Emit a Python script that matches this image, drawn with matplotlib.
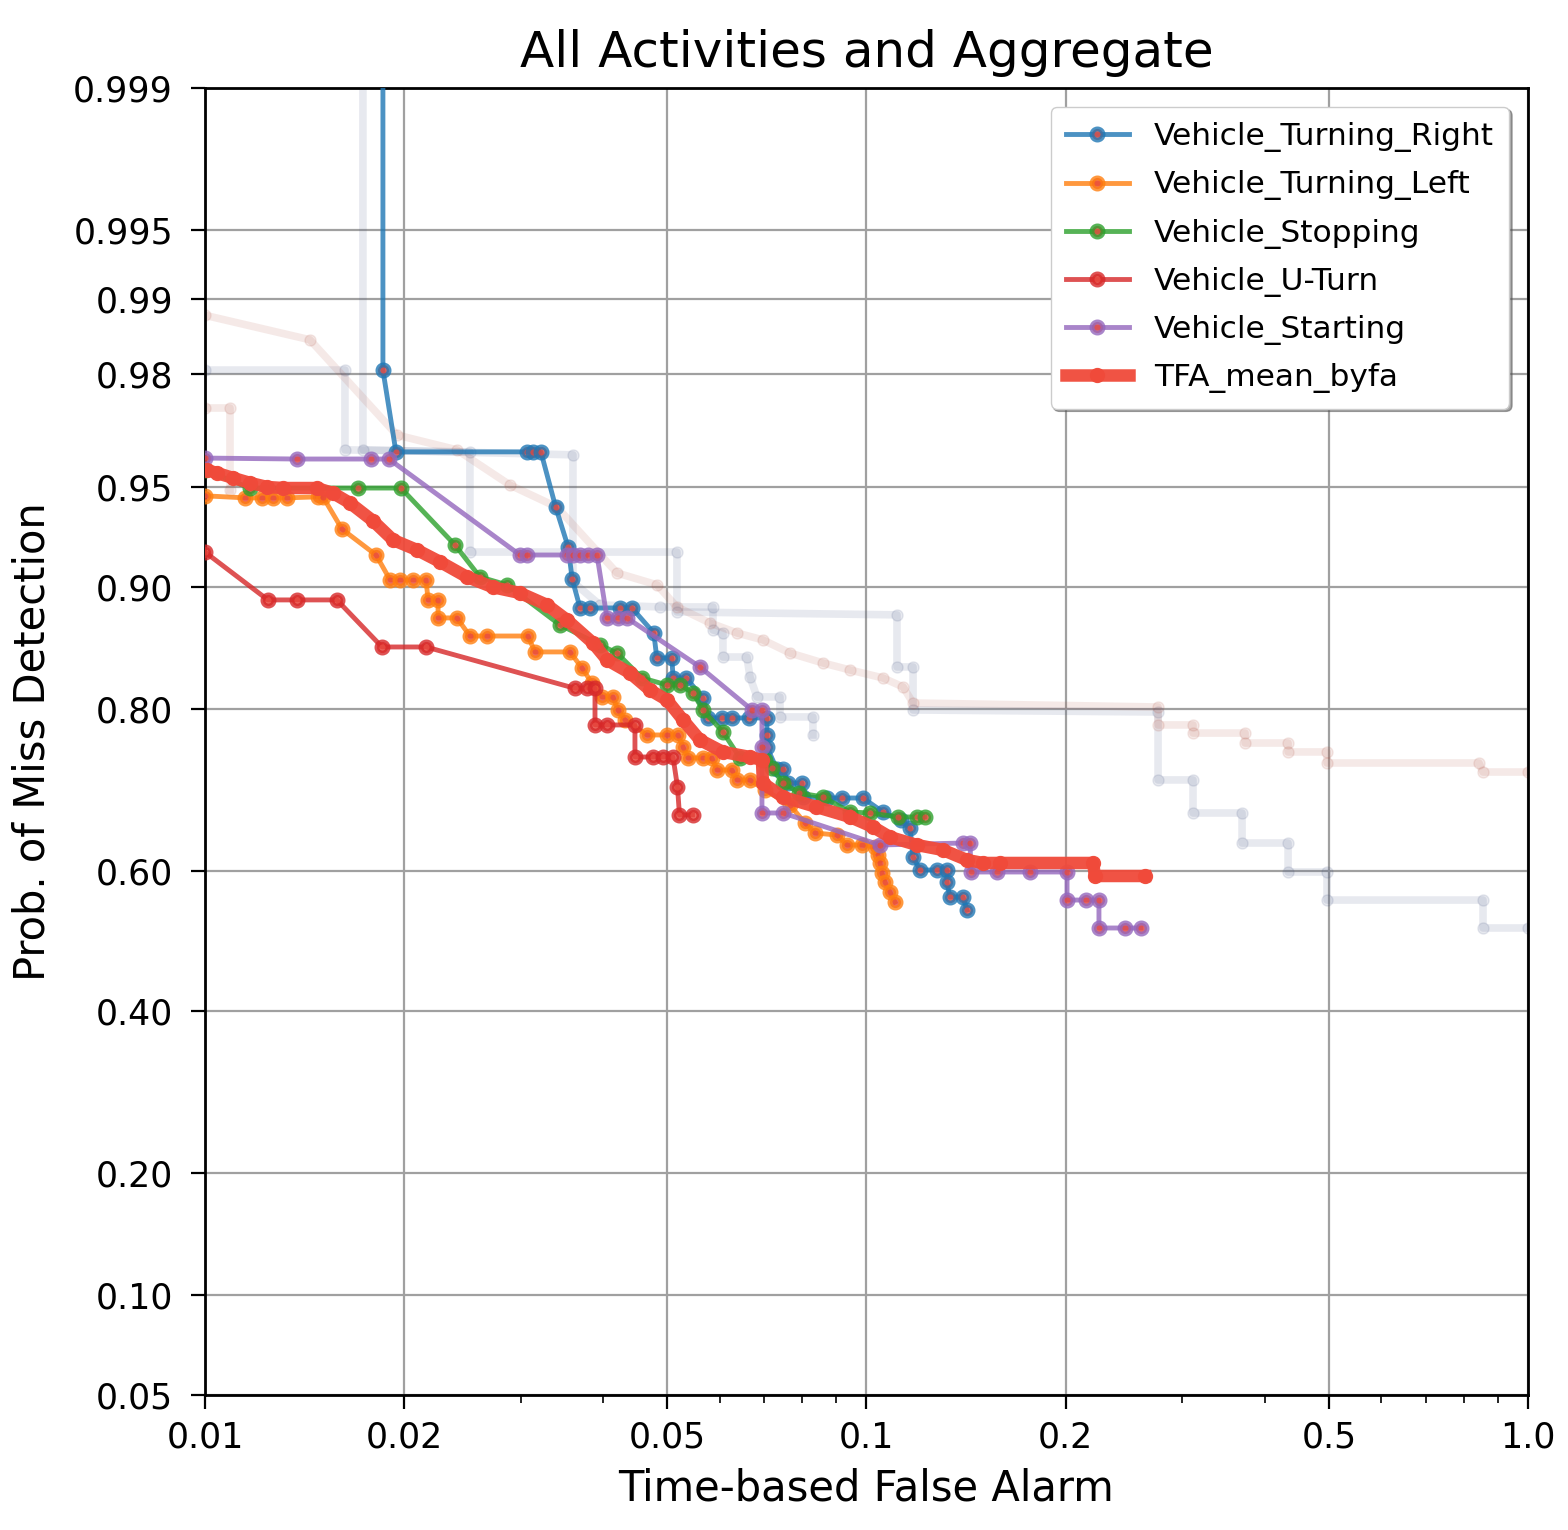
import numpy as np
import matplotlib
matplotlib.use("Agg")
import matplotlib.pyplot as plt
from matplotlib.ticker import NullFormatter, NullLocator, FixedLocator
from statistics import NormalDist

# --- data (x = time-based false alarm, y = P(miss)) ---
right_x = [0.01858, 0.01858, 0.01944, 0.0307, 0.0313, 0.0322, 0.0339, 0.0354, 0.0359, 0.0369,
           0.0382, 0.0424, 0.0442, 0.0477, 0.0482, 0.0508, 0.0510, 0.0534, 0.0566, 0.0576,
           0.0605, 0.0626, 0.0664, 0.0707, 0.0707, 0.0707, 0.0732, 0.0748, 0.0761, 0.0799,
           0.0802, 0.0872, 0.0918, 0.0988, 0.1059, 0.1126, 0.1164, 0.1176, 0.1205, 0.1278,
           0.1323, 0.1323, 0.1337, 0.1399, 0.1419]
right_y = [0.9999, 0.9807, 0.9618, 0.9618, 0.9618, 0.9618, 0.9420, 0.9233, 0.9052, 0.8862,
           0.8862, 0.8862, 0.8862, 0.8678, 0.8474, 0.8474, 0.8297, 0.8297, 0.8107, 0.7905,
           0.7905, 0.7905, 0.7905, 0.7905, 0.7723, 0.7589, 0.7334, 0.7334, 0.7165, 0.7165,
           0.6991, 0.6978, 0.6978, 0.6978, 0.6799, 0.6694, 0.6589, 0.6196, 0.6015, 0.6015,
           0.6015, 0.5846, 0.5633, 0.5633, 0.5447]

left_x = [0.0100, 0.01149, 0.01219, 0.01267, 0.0133, 0.01482, 0.01508, 0.01611, 0.01814, 0.01905,
          0.01972, 0.02063, 0.02159, 0.02174, 0.02251, 0.02251, 0.02404, 0.02515, 0.02669, 0.03078,
          0.03154, 0.03563, 0.03715, 0.03846, 0.03983, 0.04138, 0.0421, 0.04314, 0.04658, 0.04994,
          0.05189, 0.0528, 0.05373, 0.05659, 0.05839, 0.05943, 0.06261, 0.06371, 0.06667, 0.07022,
          0.07662, 0.08072, 0.08358, 0.09025, 0.09343, 0.09844, 0.1030, 0.1041, 0.1048, 0.1055,
          0.1066, 0.1085, 0.1104]
left_y = [0.9466, 0.9458, 0.9458, 0.9458, 0.9458, 0.9462, 0.9462, 0.9322, 0.919, 0.9046,
          0.9046, 0.9046, 0.9046, 0.8917, 0.8917, 0.8791, 0.8791, 0.8654, 0.8654, 0.8654,
          0.8525, 0.8525, 0.8387, 0.825, 0.8117, 0.8117, 0.7987, 0.7884, 0.7723, 0.7723,
          0.7723, 0.7589, 0.7464, 0.7464, 0.7464, 0.7322, 0.7322, 0.7202, 0.7202, 0.7078,
          0.6889, 0.6655, 0.6522, 0.6495, 0.636, 0.636, 0.6333, 0.6223, 0.6113, 0.5973,
          0.5846, 0.5704, 0.5562]

stop_x = [0.0100, 0.0117, 0.01703, 0.01978, 0.02388, 0.02604, 0.02861, 0.03441, 0.03955, 0.04196,
          0.04577, 0.04994, 0.05225, 0.05467, 0.05659, 0.06068, 0.06439, 0.07022, 0.07196, 0.07477,
          0.0792, 0.08594, 0.09443, 0.1012, 0.1116, 0.1192, 0.1226]
stop_y = [0.956, 0.9496, 0.9496, 0.9496, 0.9243, 0.9064, 0.9015, 0.8739, 0.8583, 0.8516,
          0.8297, 0.8232, 0.8232, 0.8156, 0.7987, 0.7755, 0.7464, 0.7440, 0.7346, 0.7165,
          0.7041, 0.6991, 0.6799, 0.6786, 0.6734, 0.6734, 0.6734]

uturn_x = [0.0100, 0.01245, 0.01377, 0.01583, 0.01852, 0.02159, 0.03625, 0.0378, 0.03887, 0.03887,
           0.04053, 0.04467, 0.04467, 0.04756, 0.04924, 0.0510, 0.0518, 0.05216, 0.05458]
uturn_y = [0.9206, 0.8917, 0.8917, 0.8917, 0.8566, 0.8566, 0.820, 0.820, 0.820, 0.7831,
           0.7831, 0.7831, 0.7475, 0.7475, 0.7475, 0.7475, 0.7116, 0.6761, 0.6761]

start_x = [0.0100, 0.01377, 0.01782, 0.01897, 0.02994, 0.0307, 0.03526, 0.036, 0.0369, 0.03793,
           0.03914, 0.04053, 0.0421, 0.04345, 0.05601, 0.06713, 0.0695, 0.0695, 0.0695, 0.0748,
           0.1048, 0.1399, 0.1434, 0.1439, 0.1575, 0.1767, 0.201, 0.201, 0.2147, 0.2246,
           0.2246, 0.2459, 0.260]
start_y = [0.9599, 0.9596, 0.9596, 0.9596, 0.919, 0.919, 0.919, 0.919, 0.919, 0.919,
           0.919, 0.8791, 0.8791, 0.8791, 0.8396, 0.7987, 0.7987, 0.7589, 0.6786, 0.6786,
           0.636, 0.6387, 0.6387, 0.5987, 0.5987, 0.5987, 0.5987, 0.559, 0.559, 0.559,
           0.5188, 0.5188, 0.5188]

mean_x = [0.01007, 0.01043, 0.01102, 0.0117, 0.01241, 0.01312, 0.01476, 0.01561, 0.01657, 0.01795,
          0.01924, 0.02092, 0.02267, 0.02489, 0.02725, 0.02994, 0.03289, 0.03526, 0.03859, 0.04053,
          0.0439, 0.04706, 0.04994, 0.0528, 0.05601, 0.06068, 0.06667, 0.0695, 0.06974, 0.0748,
          0.08403, 0.09443, 0.1023, 0.1085, 0.1192, 0.1305, 0.1419, 0.150, 0.1591, 0.2200,
          0.2215, 0.2636]
mean_y = [0.956, 0.955, 0.9533, 0.9515, 0.950, 0.9496, 0.9496, 0.9477, 0.9437, 0.9360,
          0.9269, 0.9217, 0.9152, 0.9064, 0.900, 0.8963, 0.8883, 0.8776, 0.8599, 0.8457,
          0.8342, 0.8184, 0.8087, 0.7884, 0.7668, 0.7533, 0.7475, 0.744, 0.7165, 0.6991,
          0.6863, 0.6734, 0.6602, 0.6468, 0.636, 0.6292, 0.6154, 0.6113, 0.6113, 0.6113,
          0.5931, 0.5931]

# faded curves from another run in the background
ghost_grey1_x = [0.01733, 0.01733, 0.036, 0.036, 0.03955, 0.04873, 0.05861, 0.05861, 0.06068,
                 0.06068, 0.06597, 0.06667, 0.06831, 0.074, 0.074, 0.08299, 0.08299]
ghost_grey1_y = [0.9999, 0.9624, 0.9609, 0.9033, 0.8883, 0.8869, 0.8869, 0.8701, 0.8678,
                 0.8482, 0.8482, 0.8306, 0.8117, 0.8117, 0.7915, 0.7915, 0.7723]
ghost_grey2_x = [0.0100, 0.01628, 0.01628, 0.02515, 0.02515, 0.0517, 0.0517, 0.1112, 0.1112,
                 0.1176, 0.1176, 0.2759, 0.2759, 0.3116, 0.3116, 0.3696, 0.3696, 0.4338,
                 0.4338, 0.4968, 0.4968, 0.855, 0.855, 1.0]
ghost_grey2_y = [0.9807, 0.9807, 0.9624, 0.9618, 0.9206, 0.9206, 0.8834, 0.8813, 0.8396,
                 0.8396, 0.7987, 0.7966, 0.7202, 0.7202, 0.6786, 0.6786, 0.6387, 0.6387,
                 0.5987, 0.5987, 0.559, 0.559, 0.5188, 0.5188]
ghost_pink1_x = [0.0100, 0.01441, 0.01951, 0.02404, 0.02892, 0.03405, 0.04196, 0.04823, 0.0517,
                 0.05799, 0.06371, 0.06974, 0.07662, 0.08594, 0.09443, 0.1059, 0.1136, 0.1176,
                 0.2759, 0.2759, 0.3116, 0.3116, 0.3735, 0.3735, 0.4338, 0.4338, 0.4968,
                 0.4968, 0.843, 0.855, 1.0]
ghost_pink1_y = [0.9883, 0.9853, 0.9666, 0.9624, 0.9507, 0.942, 0.9088, 0.9015, 0.8869,
                 0.8754, 0.8678, 0.8623, 0.8516, 0.8431, 0.8369, 0.8297, 0.8213, 0.8057,
                 0.8017, 0.7831, 0.7831, 0.7744, 0.7744, 0.7634, 0.7634, 0.7533, 0.7533,
                 0.7405, 0.7405, 0.7298, 0.7298]
ghost_pink2_x = [0.0100, 0.01091, 0.01091]
ghost_pink2_y = [0.9733, 0.9733, 0.9489]

y_ticks = [0.05, 0.10, 0.20, 0.40, 0.60, 0.80, 0.90, 0.95, 0.98, 0.99, 0.995, 0.999]
y_labels = ["0.05", "0.10", "0.20", "0.40", "0.60", "0.80", "0.90", "0.95", "0.98", "0.99", "0.995", "0.999"]
x_ticks = [0.01, 0.02, 0.05, 0.1, 0.2, 0.5, 1.0]
x_labels = ["0.01", "0.02", "0.05", "0.1", "0.2", "0.5", "1.0"]

# normal deviate (probit) scale for the miss probability
nd = NormalDist()
_ppf = np.vectorize(nd.inv_cdf, otypes=[float])
_cdf = np.vectorize(nd.cdf, otypes=[float])

def probit(p):
    p = np.clip(np.asarray(p, dtype=float), 1e-9, 1 - 1e-9)
    return _ppf(p)

def unprobit(z):
    return _cdf(np.asarray(z, dtype=float))

fig = plt.figure(figsize=(15.68, 15.30), dpi=100)
ax = fig.add_axes([0.1307, 0.0882, 0.8438, 0.8543])

# background ghosts
for gx, gy, col in [(ghost_grey1_x, ghost_grey1_y, "#405080"),
                    (ghost_grey2_x, ghost_grey2_y, "#405080"),
                    (ghost_pink1_x, ghost_pink1_y, "#b05040"),
                    (ghost_pink2_x, ghost_pink2_y, "#b05040")]:
    ax.plot(gx, gy, color=col, alpha=0.12, lw=5.5, marker="o", ms=8, zorder=1.8)

red_dot = "#e8453a"
series = [
    ("Vehicle_Turning_Right", right_x, right_y, "#1f77b4"),
    ("Vehicle_Turning_Left", left_x, left_y, "#ff7f0e"),
    ("Vehicle_Stopping", stop_x, stop_y, "#2ca02c"),
    ("Vehicle_U-Turn", uturn_x, uturn_y, "#d62728"),
    ("Vehicle_Starting", start_x, start_y, "#9467bd"),
]
for name, sx, sy, col in series:
    ax.plot(sx, sy, color=col, lw=3.5, alpha=0.8, marker="o", ms=8,
            mfc=red_dot, mec=col, mew=3.5, label=name, zorder=3)

ax.plot(mean_x, mean_y, color="#f04a3a", lw=9, alpha=0.95, marker="o", ms=10,
        mfc="#f04a3a", mec="#f04a3a", label="TFA_mean_byfa", zorder=4)

ax.set_xscale("log")
ax.set_yscale("function", functions=(probit, unprobit))
ax.set_xlim(0.01, 1.0)
ax.set_ylim(0.05, 0.999)

ax.set_xticks(x_ticks)
ax.set_xticklabels(x_labels)
ax.xaxis.set_minor_formatter(NullFormatter())
ax.yaxis.set_major_locator(FixedLocator(y_ticks))
ax.set_yticklabels(y_labels)
ax.yaxis.set_minor_locator(NullLocator())

ax.grid(True, which="major", color="#a0a0a0", lw=1.6)
ax.tick_params(axis="both", which="major", labelsize=25, length=10, width=1.6)
ax.tick_params(axis="y", which="major", pad=13)
ax.tick_params(axis="x", which="major", pad=8)
ax.tick_params(axis="x", which="minor", length=6, width=1.2)
for sp in ax.spines.values():
    sp.set_linewidth(2)

ax.set_title("All Activities and Aggregate", fontsize=36, pad=15)
ax.set_xlabel("Time-based False Alarm", fontsize=30, labelpad=10)
ax.set_ylabel("Prob. of Miss Detection", fontsize=30, labelpad=14)

ax.legend(loc="upper right", fontsize=22.5, shadow=True, framealpha=1,
          borderaxespad=0.6, handlelength=2.0, labelspacing=0.58, borderpad=0.5)

fig.savefig("out.png", dpi=100)
